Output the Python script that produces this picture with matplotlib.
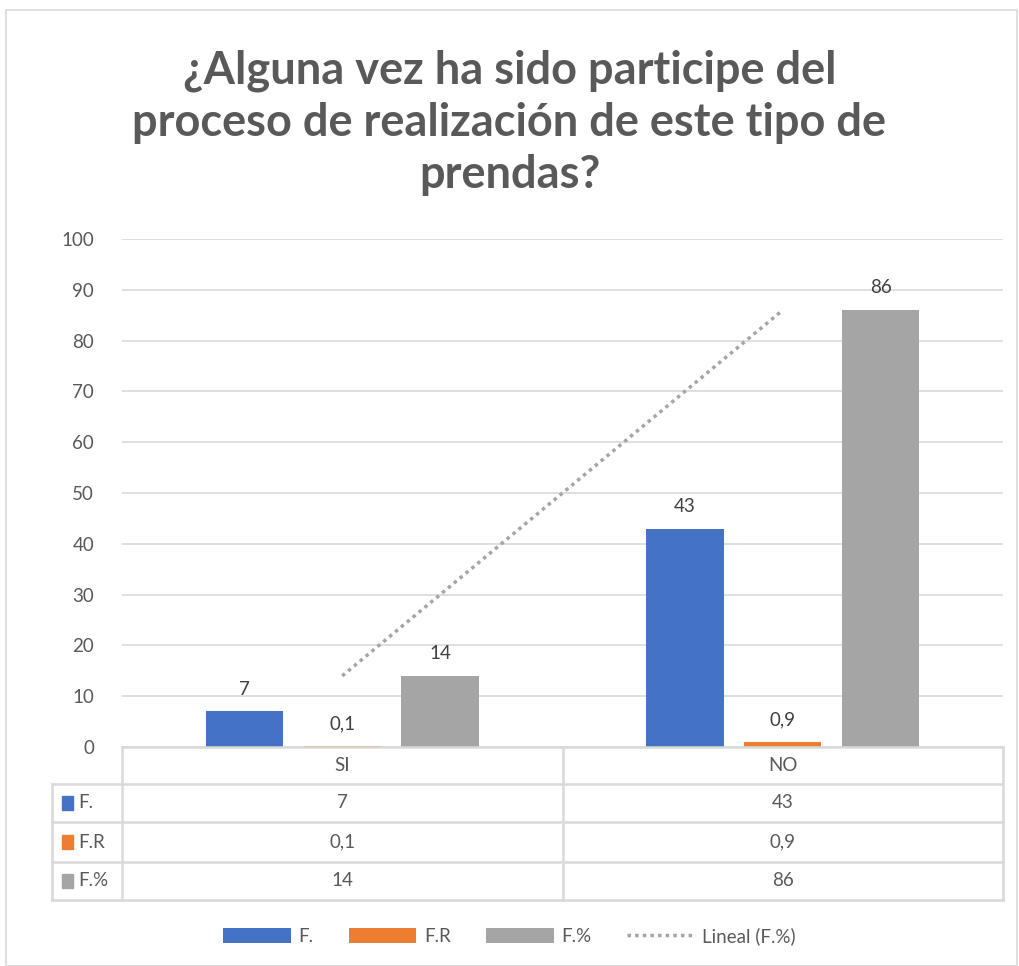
import numpy as np
import matplotlib.pyplot as plt
import matplotlib.transforms as mtransforms
from matplotlib.patches import Rectangle
from matplotlib.lines import Line2D

plt.rcParams['font.family'] = ['Lato', 'DejaVu Sans']

categories = ["SI", "NO"]
series_names = ["F.", "F.R", "F.%"]
f_abs = [7, 43]
f_rel = [0.1, 0.9]
f_pct = [14, 86]
series_values = [f_abs, f_rel, f_pct]
colors = ["#4472C4", "#ED7D31", "#A5A5A5"]
title = "¿Alguna vez ha sido participe del\nproceso de realización de este tipo de\nprendas?"
yticks = list(range(0, 101, 10))

txt = "#595959"
grid = "#D9D9D9"


def fmt(v):
    return f"{v:g}".replace(".", ",")


W, H = 1019, 966
fig = plt.figure(figsize=(W / 100, H / 100), dpi=100)

# outer chart border
fig.patches.append(Rectangle((6 / W, 0), (W - 8) / W, 1 - 10 / H, transform=fig.transFigure,
                             fill=False, edgecolor=grid, lw=1.2))

ax = fig.add_axes([122 / W, 1 - 747 / H, (1003 - 122) / W, (747 - 239) / H])
x = np.arange(len(categories))
bw = 0.175
offsets = [-0.222, 0, 0.222]
for vals, name, c, off in zip(series_values, series_names, colors, offsets):
    bars = ax.bar(x + off, vals, width=bw, color=c, label=name, zorder=3)
    for b, v in zip(bars, vals):
        ax.annotate(fmt(v), (b.get_x() + b.get_width() / 2, b.get_height()),
                    xytext=(0, 10), textcoords="offset points", ha="center", va="bottom",
                    fontsize=13.5, color="#404040")

# linear trend of F.%
coef = np.polyfit(x, f_pct, 1)
ax.plot(x, np.polyval(coef, x), color="#A5A5A5", lw=2.5, linestyle=(0, (1, 1.2)),
        label="Lineal (F.%)", zorder=4)

ax.set_xlim(-0.5, len(categories) - 0.5)
ax.set_ylim(0, 100)
ax.set_yticks(yticks)
ax.tick_params(axis="y", length=0, pad=20, labelsize=13.5, labelcolor=txt)
ax.set_xticks([])
ax.grid(axis="y", color=grid, lw=1.2, zorder=0)
for s in ax.spines.values():
    s.set_visible(False)

fig.text(0.5, 1 - 123 / H, title, ha="center", va="center", fontsize=32.5, fontweight="bold",
         color=txt, linespacing=1.3)

# data table below the axis
tr = mtransforms.blended_transform_factory(ax.transData, fig.transFigure)
row_edges = [747, 784, 822, 862, 900]
fy = [1 - r / H for r in row_edges]
left = -0.5 - 70 / 440
right = len(categories) - 0.5
lkw = dict(color=grid, lw=1.8, transform=tr, clip_on=False)
fig.add_artist(Line2D([-0.5, right], [fy[0], fy[0]], **lkw))
for yy in fy[1:]:
    fig.add_artist(Line2D([left, right], [yy, yy], **lkw))
fig.add_artist(Line2D([left, left], [fy[1], fy[-1]], **lkw))
for xx in np.arange(len(categories) + 1) - 0.5:
    fig.add_artist(Line2D([xx, xx], [fy[0], fy[-1]], **lkw))

mid = [(fy[i] + fy[i + 1]) / 2 for i in range(len(fy) - 1)]
for xi, cat in zip(x, categories):
    fig.text(xi, mid[0], cat, transform=tr, ha="center", va="center", fontsize=13.5, color=txt)
for r, (vals, name, c) in enumerate(zip(series_values, series_names, colors)):
    ym = mid[r + 1]
    for xi, v in zip(x, vals):
        fig.text(xi, ym, fmt(v), transform=tr, ha="center", va="center", fontsize=13.5, color=txt)
    fig.patches.append(Rectangle((62 / W, ym - 7 / H), 11 / W, 14 / H, transform=fig.transFigure,
                                 color=c))
    fig.text(78 / W, ym, name, ha="left", va="center", fontsize=13.5, color=txt)

handles, labels = ax.get_legend_handles_labels()
order = [1, 2, 3, 0]
fig.legend([handles[i] for i in order], [labels[i] for i in order], loc="center",
           bbox_to_anchor=(0.5, 1 - 936 / H), ncol=4, frameon=False, fontsize=13.5,
           handlelength=3.6, handleheight=0.8, handletextpad=0.4, columnspacing=1.9,
           labelcolor=txt)

fig.savefig("out.png", dpi=100)
